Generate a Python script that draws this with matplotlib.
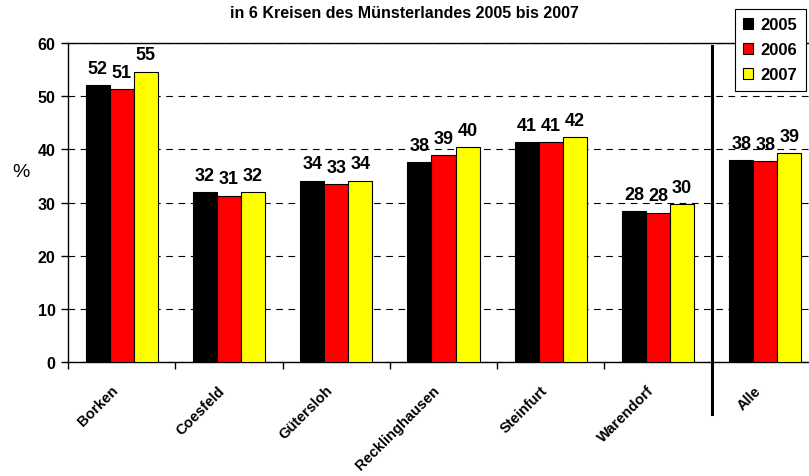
import numpy as np
import matplotlib.pyplot as plt
import matplotlib.transforms as mtransforms
from matplotlib.patches import Patch

plt.rcParams['font.family'] = ['Liberation Sans', 'DejaVu Sans']

# Data
kreise = ['Borken', 'Coesfeld', 'Gütersloh', 'Recklinghausen', 'Steinfurt', 'Warendorf', 'Alle']
jahre = ['2005', '2006', '2007']
v2005 = [52.1, 32.0, 34.1, 37.6, 41.3, 28.4, 38.0]
v2006 = [51.3, 31.3, 33.4, 38.9, 41.4, 28.1, 37.8]
v2007 = [54.6, 32.0, 34.1, 40.4, 42.3, 29.7, 39.3]
farben = ['black', '#ff0000', '#ffff00']

fig = plt.figure(figsize=(8.09, 4.77), dpi=100)
ax = fig.add_axes([68 / 809, 1 - 363 / 477, 751 / 809, 319 / 477])

x = np.arange(len(kreise)) + 0.5
w = 0.224
for i, (vals, col) in enumerate(zip([v2005, v2006, v2007], farben)):
    pos = x + (i - 1) * w
    ax.bar(pos, vals, width=w, color=col, edgecolor='black', linewidth=0.8, zorder=3)
    for px, v in zip(pos, vals):
        ax.annotate(f'{v:.0f}', (px, v), xytext=(0, 6), textcoords='offset points',
                    ha='center', va='bottom', fontsize=13, fontweight='bold')

ax.set_xlim(0, 7)
ax.set_ylim(0, 60)
ax.set_yticks(range(0, 61, 10))
ax.set_yticklabels([str(t) for t in range(0, 61, 10)], fontsize=11.5, fontweight='bold')
ax.set_xticks(range(0, 8))
ax.set_xticklabels([])
ax.set_xticks(x, minor=True)
ax.set_xticklabels(kreise, minor=True, rotation=45, ha='right', rotation_mode='anchor',
                   fontsize=10.5, fontweight='bold')
ax.tick_params(axis='x', which='minor', length=0, pad=15)
ax.tick_params(axis='x', which='major', length=5, direction='out', width=1)
ax.tick_params(axis='y', length=5, direction='out', width=1, pad=4)
shift = mtransforms.ScaledTranslation(-0.11, 0, fig.dpi_scale_trans)
for lab in ax.get_xticklabels(minor=True):
    lab.set_transform(lab.get_transform() + shift)

ax.yaxis.grid(True, linestyle=(0, (6, 5)), color='black', linewidth=0.8, zorder=0)
for s in ax.spines.values():
    s.set_linewidth(1)
    s.set_color('black')

ax.set_ylabel('%', fontsize=14, rotation=0)
ax.yaxis.set_label_coords(-0.063, 0.57)

# thick separator between Warendorf and Alle
ax.plot([6, 6], [-0.163, 0.99], color='black', linewidth=2.2,
        transform=ax.get_xaxis_transform(), clip_on=False, zorder=5)

fig.text(0.5, 1 - 14 / 477, 'in 6 Kreisen des Münsterlandes 2005 bis 2007',
         ha='center', va='center', fontsize=11.5, fontweight='bold')

handles = [Patch(facecolor=c, edgecolor='black', linewidth=0.8) for c in farben]
leg = fig.legend(handles, jahre, loc='upper left', bbox_to_anchor=(735 / 809, 1 - 10 / 477),
                 frameon=True, fancybox=False, edgecolor='black', framealpha=1,
                 prop={'weight': 'bold', 'size': 12}, handlelength=0.6, handleheight=0.6,
                 handletextpad=0.45, labelspacing=0.6, borderpad=0.5, borderaxespad=0)
leg.get_frame().set_linewidth(0.8)

fig.savefig('out.png', dpi=100)
